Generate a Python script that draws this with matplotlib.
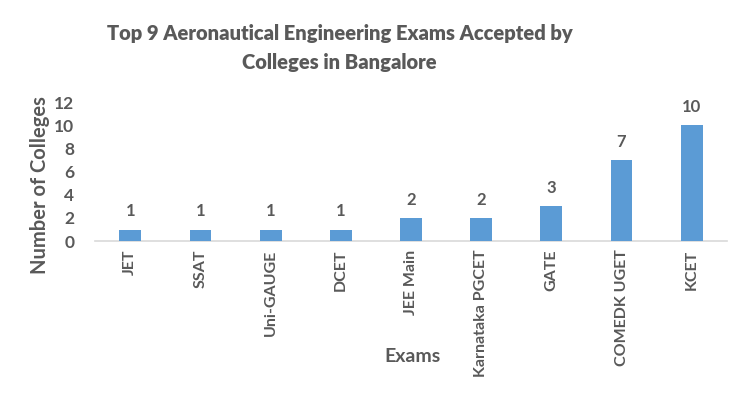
import matplotlib
matplotlib.use("Agg")
import matplotlib.pyplot as plt

categories = ["JET", "SSAT", "Uni-GAUGE", "DCET", "JEE Main", "Karnataka PGCET", "GATE", "COMEDK UGET", "KCET"]
values = [1, 1, 1, 1, 2, 2, 3, 7, 10]
yticks = [0, 2, 4, 6, 8, 10, 12]

plt.rcParams['font.family'] = ['Lato', 'DejaVu Sans']
gray = '#595959'

fig = plt.figure(figsize=(7.5, 3.94), dpi=100)
ax = fig.add_axes([0.127, 0.388, 0.842, 0.353])

x = range(len(categories))
ax.bar(x, values, width=0.31, color='#5B9BD5', zorder=3)
for xi, v in zip(x, values):
    ax.text(xi, v + 0.9, str(v), ha='center', va='bottom', fontsize=12,
            fontweight='bold', color=gray)

ax.set_xlim(-0.5, len(categories) - 0.5)
ax.set_ylim(0, 12)
ax.set_yticks(yticks)
ax.set_yticklabels([str(t) for t in yticks], fontsize=12.5, fontweight='bold', color=gray)
ax.set_xticks(list(x))
ax.set_xticklabels(categories, rotation=90, fontsize=11.5, fontweight='bold', color=gray)
ax.tick_params(length=0, pad=6)
ax.tick_params(axis='y', pad=15)
for s in ['left', 'right', 'top']:
    ax.spines[s].set_visible(False)
ax.spines['bottom'].set_color('#d9d9d9')
ax.spines['bottom'].set_linewidth(1.2)
ax.patch.set_alpha(0)

ax.set_ylabel("Number of Colleges", fontsize=14.5, fontweight='bold', color=gray)
ax.yaxis.set_label_coords(-0.071, 0.40)
fig.text(0.55, 0.095, "Exams", fontsize=14, fontweight='bold', color=gray, ha='center', va='center')

fig.text(0.453, 0.915, "Top 9 Aeronautical Engineering Exams Accepted by", fontsize=14.5,
         fontweight='heavy', color=gray, ha='center', va='center')
fig.text(0.453, 0.842, "Colleges in Bangalore", fontsize=14.5,
         fontweight='heavy', color=gray, ha='center', va='center')

fig.savefig("out.png", dpi=100)
